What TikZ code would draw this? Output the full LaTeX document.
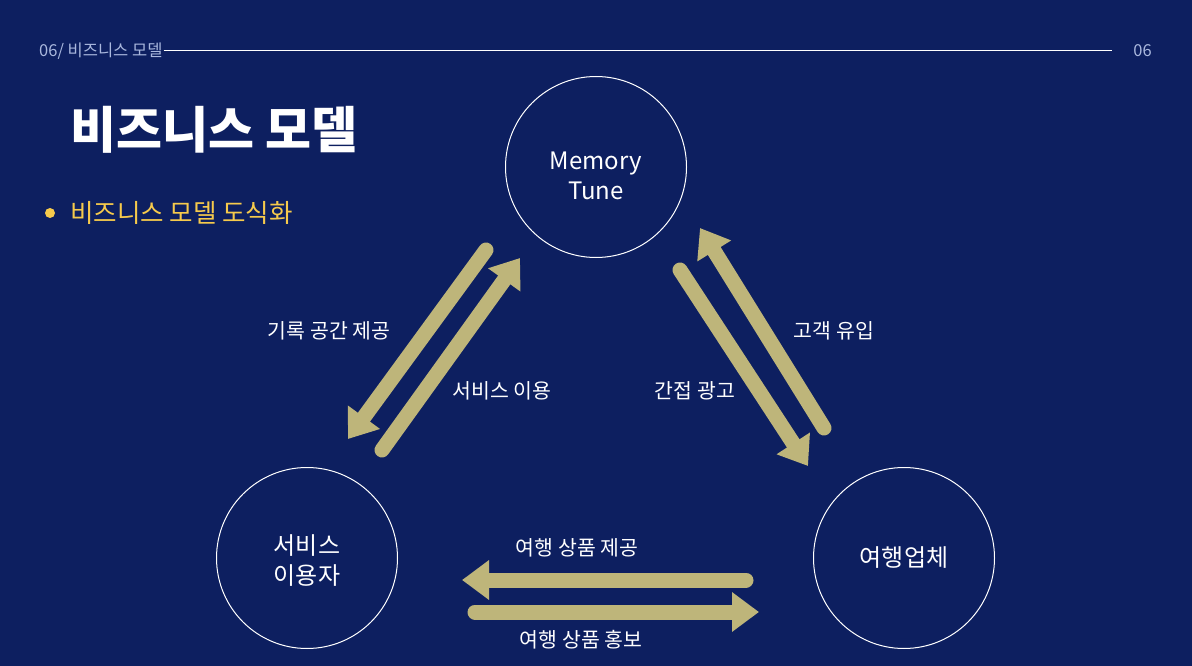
\documentclass[tikz,border=0pt]{standalone}
\usepackage{fontspec}
\setmainfont{Noto Sans CJK KR}
\usetikzlibrary{arrows.meta}
\definecolor{bg}{RGB}{13,31,96}
\definecolor{arrowc}{RGB}{190,181,122}
\definecolor{hdr}{RGB}{170,184,222}
\definecolor{accent}{RGB}{246,202,76}
\tikzset{
  x=1pt, y=-1pt,
  flow/.style={draw=arrowc, line width=15pt, line cap=round, -{Triangle[width=38pt,length=27pt]}},
  party/.style={circle, draw=white, line width=1pt, minimum size=181pt, inner sep=0pt},
  ptext/.style={text=white, align=center, inner sep=0pt, font=\fontsize{24}{30}\selectfont},
  lbl/.style={text=white, inner sep=0pt, font=\fontsize{20.5}{24}\selectfont},
  hdrtext/.style={text=hdr, inner sep=0pt, font=\fontsize{16.5}{19}\selectfont}
}
\begin{document}
\begin{tikzpicture}
\useasboundingbox (0,0) rectangle (1192,666);
\fill[bg] (0,0) rectangle (1192,666);
% header
\node[hdrtext, anchor=west] (hl) at (39,51) {06/ 비즈니스 모델};
\node[hdrtext, anchor=east] (hr) at (1152,51) {06};
\draw[white, line width=1pt] (hl.east) ++(1,0) coordinate (hls) -- (1112,51) coordinate (hle);
% title
\node[text=white, anchor=west, inner sep=0pt, font=\fontsize{50}{56}\selectfont\bfseries] (title) at (70,130) {비즈니스 모델};
\fill[accent] (50,213) circle (5) coordinate (dot);
\node[text=accent, anchor=west, inner sep=0pt, font=\fontsize{25.5}{30}\selectfont] (sub) at (70,213) {비즈니스 모델 도식화};
% parties
\node[party] (mt) at (596,167) {};
\node[ptext] (mtt) at (596,176) {Memory\\Tune};
\node[party] (user) at (307,558) {};
\node[ptext] (usert) at (307,561) {서비스\\이용자};
\node[party] (agency) at (904,558) {};
\node[ptext] (agencyt) at (904,558) {여행업체};
% arrow end points
\coordinate (a1s) at (486,250);
\coordinate (a1e) at (348,439);
\coordinate (a2s) at (382,450);
\coordinate (a2e) at (520,258);
\coordinate (a3s) at (824,428);
\coordinate (a3e) at (700,228);
\coordinate (a4s) at (680,270);
\coordinate (a4e) at (808,466);
\coordinate (a5s) at (746,580);
\coordinate (a5e) at (462,580);
\coordinate (a6s) at (475,612);
\coordinate (a6e) at (759,612);
\draw[flow] (a1s) -- (a1e);
\draw[flow] (a2s) -- (a2e);
\draw[flow] (a3s) -- (a3e);
\draw[flow] (a4s) -- (a4e);
\draw[flow] (a5s) -- (a5e);
\draw[flow] (a6s) -- (a6e);
% labels
\node[lbl] (l1) at (329,331) {기록 공간 제공};
\node[lbl] (l2) at (502,391) {서비스 이용};
\node[lbl] (l3) at (834,331) {고객 유입};
\node[lbl] (l4) at (695,391) {간접 광고};
\node[lbl] (l5) at (577,548) {여행 상품 제공};
\node[lbl] (l6) at (581,640) {여행 상품 홍보};
\end{tikzpicture}
\end{document}
